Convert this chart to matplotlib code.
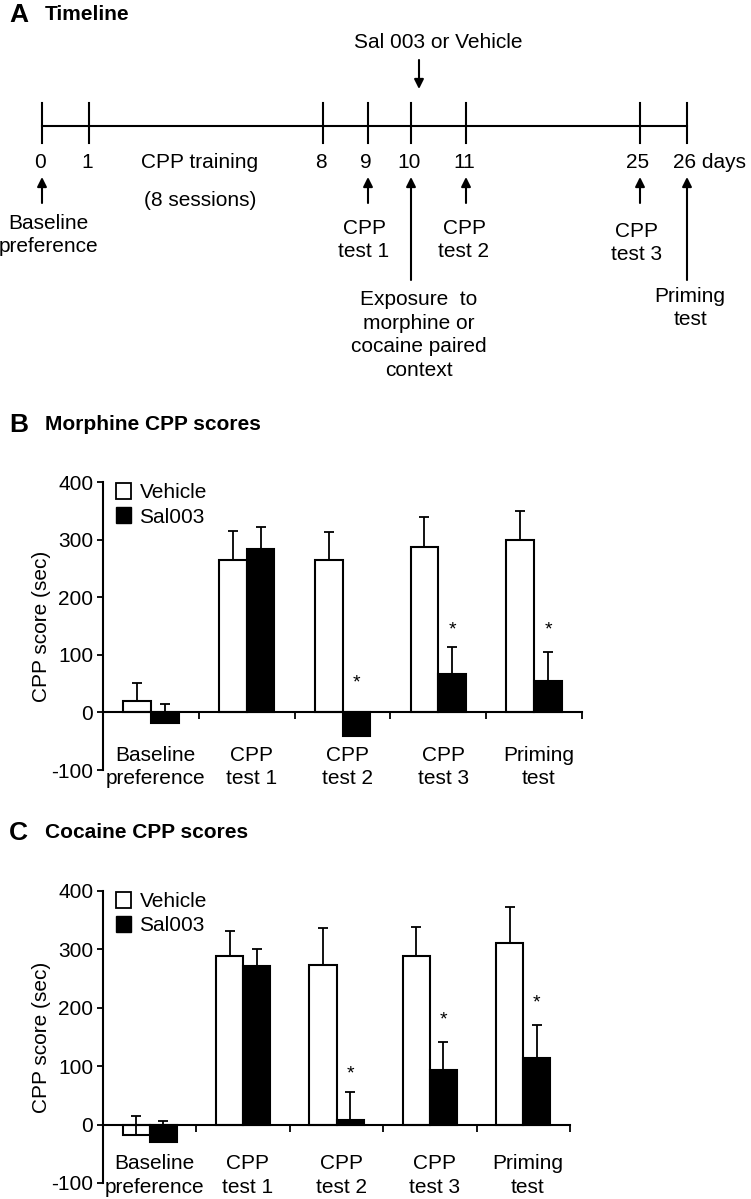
import numpy as np
import matplotlib
matplotlib.use("Agg")
import matplotlib.pyplot as plt
from matplotlib.patches import Patch

plt.rcParams['font.family'] = ['Liberation Sans', 'DejaVu Sans']
plt.rcParams['axes.unicode_minus'] = False

# ---- data ----
groups = ["Baseline\npreference", "CPP\ntest 1", "CPP\ntest 2", "CPP\ntest 3", "Priming\ntest"]

morph_vehicle = [20, 265, 265, 288, 300]
morph_vehicle_err = [31, 50, 48, 52, 50]
morph_sal = [-19, 283, -41, 66, 54]
morph_sal_err = [33, 39, 25, 47, 50]
morph_star_y = [51, 143, 143]          # groups 2, 3, 4

coc_vehicle = [-17, 288, 274, 288, 311]
coc_vehicle_err = [32, 43, 63, 51, 62]
coc_sal = [-30, 272, 8, 94, 114]
coc_sal_err = [36, 28, 47, 48, 56]
coc_star_y = [86, 179, 208]

# timeline: day labels and their schematic x positions (pixels)
tl_days = ["0", "1", "8", "9", "10", "11", "25", "26"]
tl_x = [42, 89, 323, 368, 411, 466, 640, 687]

W, H = 751, 1199
fig = plt.figure(figsize=(W / 100, H / 100), dpi=100)

# ---- panel A: timeline, drawn in pixel space ----
ax_t = fig.add_axes([0, 0, 1, 1])
ax_t.set_xlim(0, W)
ax_t.set_ylim(H, 0)
ax_t.axis('off')

for letter, title, y in [("A", "Timeline", 15), ("B", "Morphine CPP scores", 425),
                         ("C", "Cocaine CPP scores", 833)]:
    ax_t.text(9, y, letter, fontsize=19, fontweight='bold', va='center')
    ax_t.text(45, y, title, fontsize=15, fontweight='bold', va='center')

line_y = 126
ax_t.plot([tl_x[0], tl_x[-1]], [line_y, line_y], color='k', lw=1.5)
for x in tl_x:
    ax_t.plot([x, x], [103, 143], color='k', lw=1.5)

tfs = 15
for d, x in zip(tl_days, tl_x):
    if d == "26":
        ax_t.text(x - 14, 162, "26 days", fontsize=tfs, ha='left', va='center')
    else:
        ax_t.text(x - 2, 162, d, fontsize=tfs, ha='center', va='center')
ax_t.text(200, 162, "CPP training", fontsize=tfs, ha='center', va='center')
ax_t.text(200, 201, "(8 sessions)", fontsize=tfs, ha='center', va='center')
ax_t.text(438, 43, "Sal 003 or Vehicle", fontsize=tfs, ha='center', va='center')


def arrow(x, y0, y1):
    ax_t.annotate('', xy=(x, y1), xytext=(x, y0),
                  arrowprops=dict(arrowstyle='-|>', color='k', lw=1.5,
                                  mutation_scale=14, shrinkA=0, shrinkB=0))


arrow(419, 60, 89)
for i in [0, 3, 5, 6]:
    arrow(tl_x[i], 203, 177)
arrow(tl_x[4], 280, 177)
arrow(tl_x[7], 280, 177)

ax_t.text(48, 235, "Baseline\npreference", fontsize=tfs, ha='center', va='center', linespacing=1.3)
ax_t.text(364, 240, "CPP\ntest 1", fontsize=tfs, ha='center', va='center', linespacing=1.3)
ax_t.text(464, 240, "CPP\ntest 2", fontsize=tfs, ha='center', va='center', linespacing=1.3)
ax_t.text(637, 243, "CPP\ntest 3", fontsize=tfs, ha='center', va='center', linespacing=1.3)
ax_t.text(419, 335, "Exposure  to\nmorphine or\ncocaine paired\ncontext", fontsize=tfs,
          ha='center', va='center', linespacing=1.3)
ax_t.text(690, 308, "Priming\ntest", fontsize=tfs, ha='center', va='center', linespacing=1.3)


# ---- panels B and C: bar charts ----
def bar_panel(rect, veh, veh_err, sal, sal_err, star_groups, star_y, label_y):
    ax = fig.add_axes(rect)
    x = np.arange(len(groups))
    w = 0.29
    ax.bar(x - w / 2, veh, w, color='white', edgecolor='k', linewidth=1.5, zorder=2)
    ax.bar(x + w / 2, sal, w, color='k', edgecolor='k', linewidth=1.5, zorder=2)
    ax.errorbar(x - w / 2, veh, yerr=[np.zeros(len(veh)), veh_err], fmt='none',
                ecolor='k', elinewidth=1.3, capsize=3.5, capthick=1.3, zorder=3)
    ax.errorbar(x + w / 2, sal, yerr=[np.zeros(len(sal)), sal_err], fmt='none',
                ecolor='k', elinewidth=1.3, capsize=3.5, capthick=1.3, zorder=1)
    for g, sy in zip(star_groups, star_y):
        ax.text(g + w / 2, sy, "*", fontsize=14, ha='center', va='center')

    ax.set_xlim(-0.5, 4.5)
    ax.set_ylim(-100, 400)
    ax.set_yticks([-100, 0, 100, 200, 300, 400])
    ax.tick_params(axis='y', labelsize=15, length=4, width=1.3, direction='out', pad=3)
    ax.set_xticks(x + 0.5)
    ax.set_xticklabels([])
    ax.tick_params(axis='x', length=5, width=1.3, direction='out')
    ax.spines['top'].set_visible(False)
    ax.spines['right'].set_visible(False)
    ax.spines['bottom'].set_position(('data', 0))
    ax.spines['bottom'].set_linewidth(1.5)
    ax.spines['left'].set_linewidth(1.5)
    ax.set_ylabel("CPP score (sec)", fontsize=15, labelpad=0)

    for xi, g in zip(x, groups):
        ax.text(xi + 0.05, label_y, g, fontsize=15, ha='center', va='center',
                linespacing=1.3, clip_on=False)

    handles = [Patch(facecolor='white', edgecolor='k', linewidth=1.3),
               Patch(facecolor='k', edgecolor='k')]
    ax.legend(handles, ["Vehicle", "Sal003"], loc='upper left', bbox_to_anchor=(0.0, 1.04),
              frameon=False, fontsize=15, handlelength=0.75, handleheight=0.8,
              handletextpad=0.4, labelspacing=0.25, borderaxespad=0.2)
    return ax


bar_panel([103 / W, 1 - 770 / H, 479 / W, 288 / H],
          morph_vehicle, morph_vehicle_err, morph_sal, morph_sal_err,
          [2, 3, 4], morph_star_y, -95)
bar_panel([103 / W, 1 - 1183 / H, 467 / W, 292 / H],
          coc_vehicle, coc_vehicle_err, coc_sal, coc_sal_err,
          [2, 3, 4], coc_star_y, -87)

fig.savefig("out.png", dpi=100)
